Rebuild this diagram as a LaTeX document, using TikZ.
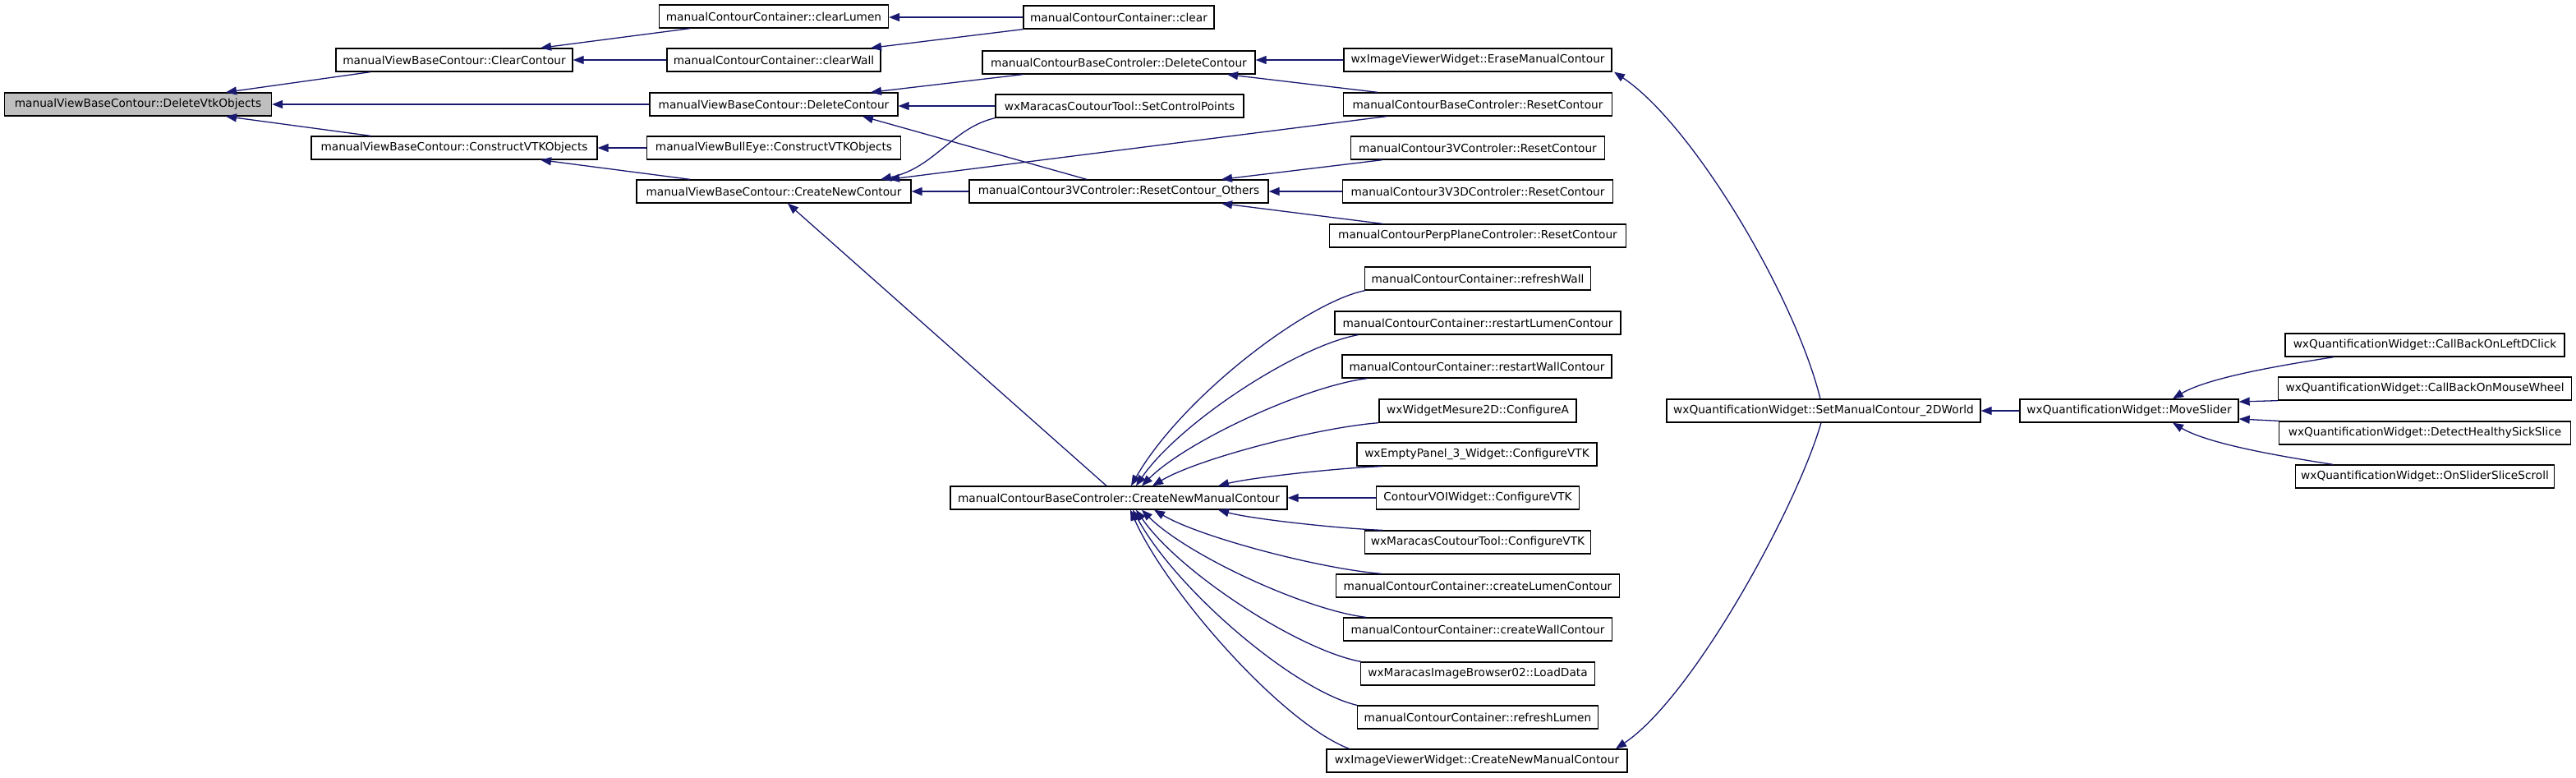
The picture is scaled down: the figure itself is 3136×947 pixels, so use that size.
\documentclass[tikz,border=0pt]{standalone}
\usepackage{fontspec}
\setmainfont{DejaVu Sans}
\usetikzlibrary{arrows.meta}
\definecolor{edgeblue}{HTML}{191970}
\definecolor{hlgray}{HTML}{BFBFBF}
\begin{document}
\begin{tikzpicture}[x=1pt,y=-1pt,
  fn/.style={draw=black, line width=1.3pt, fill=white, minimum height=28pt, inner xsep=4pt, inner ysep=0pt, font=\fontsize{13.7}{16}\selectfont, anchor=center},
  hl/.style={fn, fill=hlgray},
  edge/.style={draw=edgeblue, line width=1.3pt, -{Triangle[length=13pt,width=10pt]}}]
\useasboundingbox (0,0) rectangle (3136,947);
% column 0
\node[hl, minimum width=325] (dvo) at (168,127) {manualViewBaseContour::DeleteVtkObjects};
% column 1
\node[fn, minimum width=288] (clc) at (553,73) {manualViewBaseContour::ClearContour};
\node[fn, minimum width=348] (cvo) at (553,180) {manualViewBaseContour::ConstructVTKObjects};
% column 2
\node[fn, minimum width=279] (cl) at (942,20) {manualContourContainer::clearLumen};
\node[fn, minimum width=260] (cw) at (942,73) {manualContourContainer::clearWall};
\node[fn, minimum width=302] (vdc) at (942,127) {manualViewBaseContour::DeleteContour};
\node[fn, minimum width=309] (be) at (942,180) {manualViewBullEye::ConstructVTKObjects};
\node[fn, minimum width=334] (cnc) at (942,233) {manualViewBaseContour::CreateNewContour};
% column 3
\node[fn, minimum width=232] (clr) at (1362,21) {manualContourContainer::clear};
\node[fn, minimum width=332] (bdc) at (1362,76) {manualContourBaseControler::DeleteContour};
\node[fn, minimum width=302] (scp) at (1363,129) {wxMaracasCoutourTool::SetControlPoints};
\node[fn, minimum width=364] (rco) at (1362,233) {manualContour3VControler::ResetContour\_Others};
\node[fn, minimum width=410] (cnmc) at (1362,606) {manualContourBaseControler::CreateNewManualContour};
% column 4
\node[fn, minimum width=326] (emc) at (1799,73) {wxImageViewerWidget::EraseManualContour};
\node[fn, minimum width=327] (brc) at (1799,127) {manualContourBaseControler::ResetContour};
\node[fn, minimum width=309] (v3rc) at (1799,180) {manualContour3VControler::ResetContour};
\node[fn, minimum width=329] (v3drc) at (1799,233) {manualContour3V3DControler::ResetContour};
\node[fn, minimum width=361] (pprc) at (1799,287) {manualContourPerpPlaneControler::ResetContour};
\node[fn, minimum width=275] (rw) at (1799,339) {manualContourContainer::refreshWall};
\node[fn, minimum width=348] (rlc) at (1799,393) {manualContourContainer::restartLumenContour};
\node[fn, minimum width=328] (rwc) at (1798,446) {manualContourContainer::restartWallContour};
\node[fn, minimum width=240] (ca) at (1799,500) {wxWidgetMesure2D::ConfigureA};
\node[fn, minimum width=292] (ep) at (1798,553) {wxEmptyPanel\_3\_Widget::ConfigureVTK};
\node[fn, minimum width=247] (voi) at (1799,606) {ContourVOIWidget::ConfigureVTK};
\node[fn, minimum width=275] (mct) at (1799,660) {wxMaracasCoutourTool::ConfigureVTK};
\node[fn, minimum width=345] (clc2) at (1799,713) {manualContourContainer::createLumenContour};
\node[fn, minimum width=327] (cwc) at (1799,766) {manualContourContainer::createWallContour};
\node[fn, minimum width=285] (ld) at (1799,820) {wxMaracasImageBrowser02::LoadData};
\node[fn, minimum width=293] (rl) at (1799,873) {manualContourContainer::refreshLumen};
\node[fn, minimum width=366] (ivc) at (1798,926) {wxImageViewerWidget::CreateNewManualContour};
% column 5-7
\node[fn, minimum width=382] (smc) at (2220,500) {wxQuantificationWidget::SetManualContour\_2DWorld};
\node[fn, minimum width=266] (ms) at (2592,500) {wxQuantificationWidget::MoveSlider};
\node[fn, minimum width=340] (ldc) at (2952,420) {wxQuantificationWidget::CallBackOnLeftDClick};
\node[fn, minimum width=357] (mw) at (2952,473) {wxQuantificationWidget::CallBackOnMouseWheel};
\node[fn, minimum width=355] (dh) at (2952,527) {wxQuantificationWidget::DetectHealthySickSlice};
\node[fn, minimum width=315] (oss) at (2952,580) {wxQuantificationWidget::OnSliderSliceScroll};
% edges
\draw[edge] ([xshift=-102]clc.south) -- ([xshift=107]dvo.north);
\draw[edge] (vdc.west) -- (dvo.east);
\draw[edge] ([xshift=-102]cvo.north) -- ([xshift=107]dvo.south);
\draw[edge] ([xshift=-102]cl.south) -- ([xshift=105]clc.north);
\draw[edge] (cw.west) -- (clc.east);
\draw[edge] (clr.west) -- (clr.west -| cl.east);
\draw[edge] (clr.south west) -- ([xshift=118]cw.north);
\draw[edge] ([xshift=-117]bdc.south) -- ([xshift=118]vdc.north);
\draw[edge] (scp.west) -- (scp.west -| vdc.east);
\draw[edge] ([xshift=-39]rco.north) -- ([xshift=108]vdc.south);
\draw[edge] (be.west) -- (cvo.east);
\draw[edge] ([xshift=-102]cnc.north) -- ([xshift=105]cvo.south);
\draw[edge] (scp.south west) .. controls +(-52,12) and +(66,-14) .. ([xshift=130]cnc.north);
\draw[edge] ([xshift=-111]brc.south) -- ([xshift=140]cnc.north);
\draw[edge] (rco.west) -- (cnc.east);
\draw[edge] (emc.west) -- (emc.west -| bdc.east);
\draw[edge] ([xshift=-122]brc.north) -- ([xshift=132]bdc.south);
\draw[edge] ([xshift=-116]v3rc.south) -- ([xshift=125]rco.north);
\draw[edge] (v3drc.west) -- (rco.east);
\draw[edge] ([xshift=-116]pprc.north) -- ([xshift=125]rco.south);
\draw[edge] ([xshift=-15]cnmc.north) -- ([xshift=17]cnc.south);
\draw[edge] ([xshift=-4]smc.north) .. controls +(-31,-125) and +(95,63) .. ([xshift=166]emc.south);
\draw[edge] ([xshift=-3]smc.south) .. controls +(-31,106) and +(93,-62) .. ([xshift=169]ivc.north);
\draw[edge] (ms.west) -- (smc.east);
\draw[edge] ([xshift=-111]ldc.south) .. controls +(-51,8) and +(45,-27) .. ([xshift=53]ms.north);
\draw[edge] (mw.south west) -- ([yshift=11pt]ms.east);
\draw[edge] (dh.north west) -- ([yshift=-10pt]ms.east);
\draw[edge] ([xshift=-112]oss.north) .. controls +(-51,-8) and +(45,27) .. ([xshift=53]ms.south);
% callers of CreateNewManualContour
\draw[edge] ([xshift=1]rw.south west) .. controls +(-71,14) and +(62,-108) .. ([xshift=15]cnmc.north);
\draw[edge] ([xshift=29]rlc.south west) .. controls +(-73,13) and +(54,-78) .. ([xshift=21]cnmc.north);
\draw[edge] ([xshift=31]rwc.south west) .. controls +(-74,9) and +(55,-55) .. ([xshift=28]cnmc.north);
\draw[edge] (ca.south west) .. controls +(-75,6) and +(55,-33) .. ([xshift=41]cnmc.north);
\draw[edge] ([xshift=31]ep.south west) .. controls +(-54,2) and +(40,-10) .. ([xshift=121]cnmc.north);
\draw[edge] (voi.west) -- (cnmc.east);
\draw[edge] ([xshift=22]mct.north west) .. controls +(-54,-2) and +(40,11) .. ([xshift=121]cnmc.south);
\draw[edge] ([xshift=56]clc2.north west) .. controls +(-75,-6) and +(55,33) .. ([xshift=43]cnmc.south);
\draw[edge] ([xshift=28]cwc.north west) .. controls +(-74,-9) and +(55,55) .. ([xshift=28]cnmc.south);
\draw[edge] ([xshift=1]ld.north west) .. controls +(-73,-13) and +(54,78) .. ([xshift=21]cnmc.south);
\draw[edge] (rl.north west) .. controls +(-74,-17) and +(55,100) .. ([xshift=17]cnmc.south);
\draw[edge] ([xshift=28]ivc.north west) .. controls +(-83,-32) and +(44,99) .. ([xshift=14]cnmc.south);
\end{tikzpicture}
\end{document}
